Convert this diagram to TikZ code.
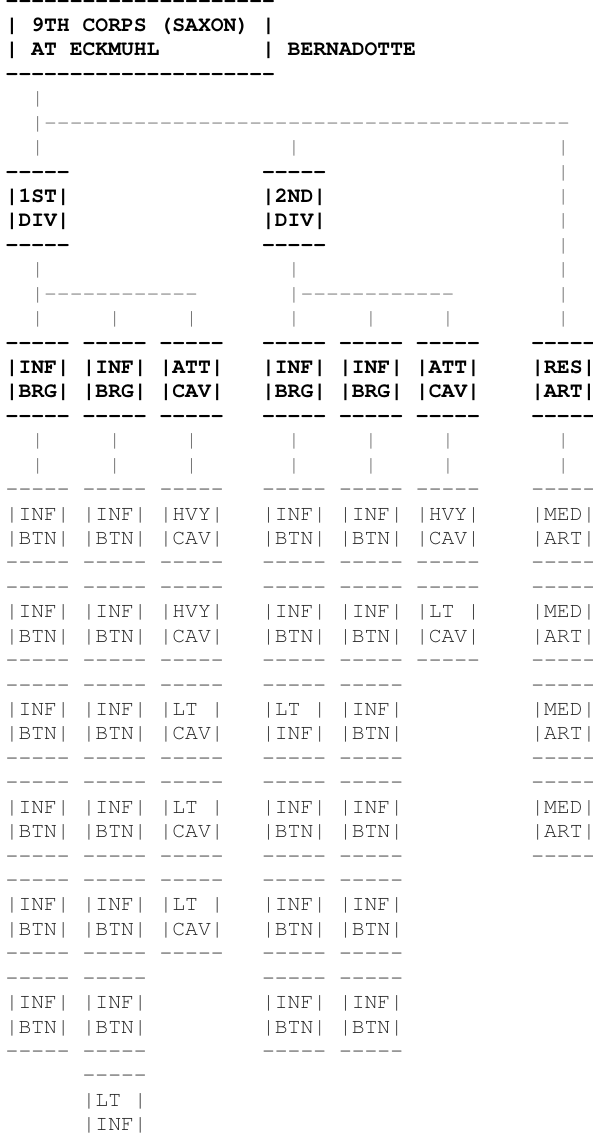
\documentclass[tikz,border=0pt]{standalone}
\usepackage{fontspec}
\setmonofont{texgyrecursor}[Extension=.otf,UprightFont=*-regular,
  BoldFont=*-bold,Ligatures=TeXOff]
\tikzset{
  txt/.style={anchor=base west,inner sep=0pt,outer sep=0pt,
    font=\ttfamily\fontsize{21.37}{24.43}\selectfont},
  unit/.style={txt,font=\ttfamily\bfseries\fontsize{21.37}{24.43}\selectfont,text=black},
  link/.style={txt,text=black!62},
  batt/.style={txt,text=black!85},
}
% one box of four lines: style, name, column, row, top word, bottom word
\newcommand\orgbox[6]{%
  \node[#1] (#2-t) at (#3,#4)   {-----};
  \node[#1] (#2-a) at (#3,#4+1) {|#5|};
  \node[#1] (#2-b) at (#3,#4+2) {|#6|};
  \node[#1] (#2)   at (#3,#4+3) {-----};
}
\begin{document}
\begin{tikzpicture}[x=12.82pt,y=-24.43pt]
  \useasboundingbox (-5.7pt,7pt) rectangle (587.3pt,-1128pt);
  %% Corps
  \node[unit] (corps-t) at (0,0) {---------------------};
  \node[unit] (corps-a) at (0,1) {| 9TH CORPS (SAXON) |};
  \node[unit] (corps-b) at (0,2) {| AT ECKMUHL};
  \node[unit] (corps-r) at (20,2) {|};
  \node[unit] (cmdr) at (22,2) {BERNADOTTE};
  \node[unit] (corps) at (0,3) {---------------------};
  %% Links corps to divisions
  \node[link] (l-2-4) at (2,4) {|};
  \node[link] (l-2-5) at (2,5) {|-----------------------------------------};
  \foreach \c in {2,22,43} \node[link] (l-\c-6) at (\c,6) {|};
  \foreach \r in {7,...,10} \node[link] (l-43-\r) at (43,\r) {|};
  \foreach \c in {2,22,43} \node[link] (l-\c-11) at (\c,11) {|};
  \node[link] (l-2-12) at (2,12) {|------------};
  \node[link] (l-22-12) at (22,12) {|------------};
  \node[link] (l-43-12) at (43,12) {|};
  \foreach \c in {2,8,14,22,28,34,43} \node[link] (l-\c-13) at (\c,13) {|};
  %% Divisions
  \orgbox{unit}{div1}{0}{7}{1ST}{DIV}
  \orgbox{unit}{div2}{20}{7}{2ND}{DIV}
  %% Brigades
  \foreach \c/\a/\b/\n in {0/INF/BRG/brg11,6/INF/BRG/brg12,12/ATT/CAV/cav1,
      20/INF/BRG/brg21,26/INF/BRG/brg22,32/ATT/CAV/cav2,41/RES/ART/res}
    {\orgbox{unit}{\n}{\c}{14}{\a}{\b}}
  %% Links brigades to battalions
  \foreach \r in {18,19}
    \foreach \c in {2,8,14,22,28,34,43} \node[link] (l-\c-\r) at (\c,\r) {|};
  %% Battalions
  \foreach \c/\r/\a/\b in {0/20/INF/BTN,6/20/INF/BTN,12/20/HVY/CAV,20/20/INF/BTN,
      26/20/INF/BTN,32/20/HVY/CAV,41/20/MED/ART,
      0/24/INF/BTN,6/24/INF/BTN,12/24/HVY/CAV,20/24/INF/BTN,
      26/24/INF/BTN,32/24/{LT\ }/CAV,41/24/MED/ART,
      0/28/INF/BTN,6/28/INF/BTN,12/28/{LT\ }/CAV,20/28/{LT\ }/INF,
      26/28/INF/BTN,41/28/MED/ART,
      0/32/INF/BTN,6/32/INF/BTN,12/32/{LT\ }/CAV,20/32/INF/BTN,
      26/32/INF/BTN,41/32/MED/ART,
      0/36/INF/BTN,6/36/INF/BTN,12/36/{LT\ }/CAV,20/36/INF/BTN,26/36/INF/BTN,
      0/40/INF/BTN,6/40/INF/BTN,20/40/INF/BTN,26/40/INF/BTN}
    {\orgbox{batt}{b-\c-\r}{\c}{\r}{\a}{\b}}
  \node[batt] (lt-t) at (6,44) {-----};
  \node[batt] (lt-a) at (6,45) {|LT\ |};
  \node[batt] (lt) at (6,46) {|INF|};
\end{tikzpicture}
\end{document}
